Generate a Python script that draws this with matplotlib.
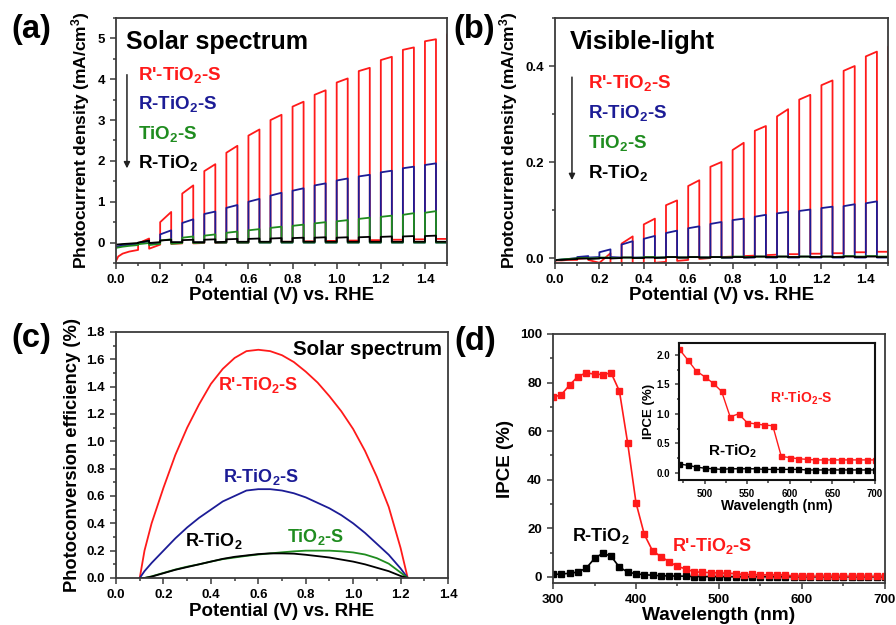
import matplotlib
matplotlib.use("Agg")
import matplotlib.pyplot as plt
from matplotlib.ticker import MultipleLocator

plt.rcParams['font.family'] = ['Liberation Sans', 'DejaVu Sans']
plt.rcParams['font.weight'] = 'bold'
plt.rcParams['axes.labelweight'] = 'bold'
plt.rcParams['mathtext.fontset'] = 'custom'
plt.rcParams['mathtext.bf'] = 'Liberation Sans:bold'
plt.rcParams['mathtext.rm'] = 'Liberation Sans:bold'
plt.rcParams['mathtext.default'] = 'bf'

RED = '#ff1a1a'
BLUE = '#1c1c96'
GREEN = '#1f8c1f'
BLACK = '#000000'

# ---- chopped-light J-V data (a), (b) ----
pulse_v = [0.1, 0.2, 0.3, 0.4, 0.5, 0.6, 0.7, 0.8, 0.9, 1.0, 1.1, 1.2, 1.3, 1.4, 1.5]
pulse_len = 0.05
start_v = [0.0, 0.01, 0.03, 0.06, 0.1]

# (a) solar spectrum
red_a_start = [-0.45, -0.34, -0.27, -0.22, -0.18]
red_a_pre = [-0.18, -0.05, -0.02, -0.01, 0.0, 0.0, 0.01, 0.02, 0.03, 0.04, 0.05, 0.06, 0.07, 0.08, 0.09]
red_a_on0 = [-0.02, 0.5, 1.2, 1.75, 2.2, 2.62, 3.0, 3.33, 3.62, 3.92, 4.2, 4.47, 4.72, 4.93, 5.1]
red_a_on1 = [0.1, 0.75, 1.4, 1.92, 2.37, 2.77, 3.13, 3.45, 3.73, 4.02, 4.28, 4.55, 4.78, 4.98, 5.1]
red_a_post = [-0.15, -0.03, -0.02, -0.01, 0.0, 0.01, 0.02, 0.03, 0.04, 0.05, 0.06, 0.07, 0.08, 0.09, 0.1]

blue_a_start = [-0.1, -0.09, -0.07, -0.05, -0.03]
blue_a_dark = [-0.03, 0.0, 0.0, 0.0, 0.0, 0.0, 0.0, 0.0, 0.0, 0.0, 0.0, 0.0, 0.0, 0.0, 0.0]
blue_a_on0 = [-0.01, 0.2, 0.48, 0.7, 0.85, 1.0, 1.15, 1.27, 1.4, 1.52, 1.62, 1.72, 1.82, 1.9, 1.98]
blue_a_on1 = [0.03, 0.3, 0.57, 0.76, 0.92, 1.07, 1.22, 1.33, 1.45, 1.57, 1.66, 1.76, 1.86, 1.94, 1.98]

green_a_start = [-0.13, -0.12, -0.1, -0.08, -0.06]
green_a_dark = [-0.06, -0.03, -0.01, 0.0, 0.0, 0.0, 0.0, 0.0, 0.0, 0.0, 0.0, 0.0, 0.0, 0.0, 0.0]
green_a_on0 = [-0.04, 0.05, 0.12, 0.17, 0.24, 0.3, 0.36, 0.41, 0.47, 0.52, 0.58, 0.63, 0.68, 0.73, 0.8]
green_a_on1 = [-0.01, 0.08, 0.15, 0.2, 0.27, 0.33, 0.39, 0.44, 0.5, 0.55, 0.61, 0.66, 0.72, 0.77, 0.8]

black_a_start = [-0.05, -0.045, -0.035, -0.025, -0.01]
black_a_dark = [-0.01, 0.01, 0.01, 0.01, 0.02, 0.02, 0.02, 0.02, 0.02, 0.02, 0.02, 0.02, 0.02, 0.02, 0.02]
black_a_on0 = [0.0, 0.05, 0.06, 0.07, 0.08, 0.09, 0.1, 0.11, 0.12, 0.12, 0.13, 0.14, 0.15, 0.16, 0.18]
black_a_on1 = [0.05, 0.07, 0.07, 0.08, 0.09, 0.1, 0.11, 0.12, 0.13, 0.13, 0.14, 0.15, 0.16, 0.17, 0.18]

# (b) visible light
red_b_start = [-0.006, -0.005, -0.005, -0.004, -0.004]
red_b_pre = [-0.004, -0.01, -0.012, -0.01, -0.008, -0.004, 0.0, 0.003, 0.005, 0.007, 0.008, 0.009, 0.01, 0.012, 0.013]
red_b_on0 = [-0.002, -0.01, 0.03, 0.07, 0.11, 0.15, 0.19, 0.225, 0.265, 0.295, 0.33, 0.36, 0.39, 0.42, 0.44]
red_b_on1 = [0.0, 0.01, 0.045, 0.082, 0.12, 0.162, 0.2, 0.24, 0.275, 0.31, 0.34, 0.37, 0.4, 0.43, 0.44]
red_b_post = [-0.004, -0.012, -0.012, -0.01, -0.006, -0.002, 0.002, 0.004, 0.006, 0.008, 0.009, 0.01, 0.012, 0.013, 0.014]

blue_b_start = [-0.005, -0.004, -0.003, -0.002, 0.0]
blue_b_dark = [0.001, 0.002, 0.001, 0.001, 0.001, 0.001, 0.001, 0.001, 0.001, 0.001, 0.001, 0.001, 0.001, 0.001, 0.001]
blue_b_on0 = [0.002, 0.012, 0.028, 0.04, 0.052, 0.062, 0.071, 0.079, 0.086, 0.093, 0.098, 0.104, 0.108, 0.114, 0.12]
blue_b_on1 = [0.004, 0.018, 0.035, 0.046, 0.057, 0.066, 0.075, 0.082, 0.09, 0.096, 0.101, 0.107, 0.112, 0.118, 0.12]

green_b_start = [-0.004, -0.004, -0.003, -0.002, -0.001]
green_b_dark = [-0.001, 0.0, 0.0, 0.001, 0.001, 0.001, 0.001, 0.002, 0.002, 0.002, 0.002, 0.002, 0.003, 0.003, 0.003]
green_b_on0 = [0.0, 0.001, 0.001, 0.002, 0.002, 0.002, 0.002, 0.003, 0.003, 0.003, 0.003, 0.003, 0.004, 0.004, 0.004]
green_b_on1 = [0.0, 0.001, 0.001, 0.002, 0.002, 0.002, 0.002, 0.003, 0.003, 0.003, 0.003, 0.003, 0.004, 0.004, 0.004]

black_b_start = [-0.005, -0.004, -0.004, -0.003, -0.002]
black_b_dark = [-0.002, -0.001, 0.0, 0.0, 0.001, 0.001, 0.001, 0.001, 0.002, 0.002, 0.002, 0.002, 0.002, 0.002, 0.002]
black_b_on0 = [-0.001, 0.0, 0.001, 0.001, 0.002, 0.002, 0.002, 0.002, 0.003, 0.003, 0.003, 0.003, 0.003, 0.003, 0.003]
black_b_on1 = [-0.001, 0.0, 0.001, 0.001, 0.002, 0.002, 0.002, 0.002, 0.003, 0.003, 0.003, 0.003, 0.003, 0.003, 0.003]

# ---- (c) photoconversion efficiency ----
c_v = [0.10, 0.12, 0.15, 0.2, 0.25, 0.3, 0.35, 0.4, 0.45, 0.5, 0.55, 0.6, 0.65,
       0.7, 0.75, 0.8, 0.85, 0.9, 0.95, 1.0, 1.05, 1.1, 1.15, 1.2, 1.23]
eff_red = [0.0, 0.2, 0.4, 0.66, 0.9, 1.1, 1.27, 1.42, 1.53, 1.61, 1.66, 1.67, 1.66,
           1.63, 1.58, 1.51, 1.43, 1.33, 1.22, 1.09, 0.93, 0.74, 0.52, 0.22, 0.0]
eff_blue = [0.0, 0.05, 0.11, 0.2, 0.29, 0.37, 0.44, 0.5, 0.56, 0.6, 0.64, 0.65, 0.65,
            0.64, 0.62, 0.59, 0.55, 0.51, 0.46, 0.4, 0.33, 0.25, 0.17, 0.07, 0.0]
eff_black = [0.0, 0.0, 0.01, 0.035, 0.06, 0.08, 0.1, 0.12, 0.14, 0.155, 0.165, 0.175, 0.18,
             0.18, 0.178, 0.17, 0.16, 0.15, 0.135, 0.12, 0.1, 0.075, 0.05, 0.015, 0.0]
eff_green = [0.0, 0.0, 0.012, 0.037, 0.062, 0.083, 0.1, 0.12, 0.138, 0.15, 0.162, 0.172, 0.18,
             0.188, 0.195, 0.2, 0.2, 0.2, 0.195, 0.187, 0.172, 0.145, 0.105, 0.04, 0.0]

# ---- (d) IPCE ----
wavelength = list(range(300, 701, 10))
ipce_red = [74, 75, 79, 82.5, 84, 83.5, 83.3, 84, 76.5, 55, 30.5, 17.5, 10.7, 8.4, 6.2, 4.3, 3.3,
            2.1, 1.92, 1.73, 1.63, 1.52, 1.38, 0.95, 1.0, 0.85, 0.83, 0.81, 0.8, 0.28, 0.26,
            0.24, 0.23, 0.22, 0.22, 0.22, 0.22, 0.22, 0.22, 0.22, 0.22]
ipce_black = [1.0, 1.2, 1.5, 2.0, 3.6, 7.6, 9.8, 8.5, 4.0, 2.0, 1.3, 0.9, 0.7, 0.5, 0.4, 0.35, 0.3,
              0.15, 0.13, 0.1, 0.08, 0.07, 0.06, 0.07, 0.07, 0.07, 0.07, 0.06, 0.06, 0.06, 0.06,
              0.06, 0.05, 0.05, 0.05, 0.05, 0.05, 0.05, 0.05, 0.05, 0.05]

labels = ["R'-TiO$_2$-S", "R-TiO$_2$-S", "TiO$_2$-S", "R-TiO$_2$"]


def chopped(j_start, pre, on0, on1, post):
    v = list(start_v)
    j = list(j_start)
    for k, p in enumerate(pulse_v):
        v += [p, p, p + pulse_len, p + pulse_len]
        j += [pre[k], on0[k], on1[k], post[k]]
    return v, j


def style_axes(ax, lw=1.3, tick_size=9.5):
    for s in ax.spines.values():
        s.set_linewidth(lw)
        s.set_color('#3a3a3a')
    ax.tick_params(which='both', direction='out', top=False, right=False,
                   labelsize=tick_size, width=1.1, color='#3a3a3a')
    ax.tick_params(which='major', length=4.5)
    ax.tick_params(which='minor', length=2.5)


fig = plt.figure(figsize=(8.96, 6.25), dpi=100)

ax_a = fig.add_axes([0.1295, 0.5792, 0.3694, 0.392])
ax_b = fig.add_axes([0.6194, 0.5792, 0.3717, 0.392])
ax_c = fig.add_axes([0.1295, 0.0752, 0.3705, 0.3936])
ax_d = fig.add_axes([0.6172, 0.0672, 0.3705, 0.3984])
ax_in = fig.add_axes([0.7578, 0.232, 0.2188, 0.2192])

# (a)
series_a = [
    (red_a_start, red_a_pre, red_a_on0, red_a_on1, red_a_post, RED),
    (blue_a_start, blue_a_dark, blue_a_on0, blue_a_on1, blue_a_dark, BLUE),
    (green_a_start, green_a_dark, green_a_on0, green_a_on1, green_a_dark, GREEN),
    (black_a_start, black_a_dark, black_a_on0, black_a_on1, black_a_dark, BLACK),
]
for st, pre, on0, on1, post, col in series_a:
    v, j = chopped(st, pre, on0, on1, post)
    ax_a.plot(v, j, color=col, lw=1.3)
ax_a.set_xlim(0, 1.5)
ax_a.set_ylim(-0.5, 5.5)
ax_a.xaxis.set_major_locator(MultipleLocator(0.2))
ax_a.xaxis.set_minor_locator(MultipleLocator(0.1))
ax_a.yaxis.set_major_locator(MultipleLocator(1))
ax_a.yaxis.set_minor_locator(MultipleLocator(0.5))
ax_a.set_xlabel("Potential (V) vs. RHE", fontsize=13.5, labelpad=1)
ax_a.set_ylabel("Photocurrent density (mA/cm$^3$)", fontsize=12.5, labelpad=4)
ax_a.text(0.03, 0.873, "Solar spectrum", transform=ax_a.transAxes, fontsize=18)
for lab, col, yb in zip(labels, [RED, BLUE, GREEN, BLACK], [0.747, 0.629, 0.506, 0.388]):
    ax_a.text(0.066, yb, lab, color=col, transform=ax_a.transAxes, fontsize=13.5)
ax_a.annotate("", xy=(0.033, 0.375), xytext=(0.033, 0.78), xycoords='axes fraction',
              arrowprops=dict(arrowstyle='-|>', color='#222222', lw=1.1, mutation_scale=9))
style_axes(ax_a)

# (b)
series_b = [
    (red_b_start, red_b_pre, red_b_on0, red_b_on1, red_b_post, RED),
    (blue_b_start, blue_b_dark, blue_b_on0, blue_b_on1, blue_b_dark, BLUE),
    (green_b_start, green_b_dark, green_b_on0, green_b_on1, green_b_dark, GREEN),
    (black_b_start, black_b_dark, black_b_on0, black_b_on1, black_b_dark, BLACK),
]
for st, pre, on0, on1, post, col in series_b:
    v, j = chopped(st, pre, on0, on1, post)
    ax_b.plot(v, j, color=col, lw=1.3)
ax_b.set_xlim(0, 1.5)
ax_b.set_ylim(-0.0104, 0.5)
ax_b.xaxis.set_major_locator(MultipleLocator(0.2))
ax_b.xaxis.set_minor_locator(MultipleLocator(0.1))
ax_b.yaxis.set_major_locator(MultipleLocator(0.2))
ax_b.yaxis.set_minor_locator(MultipleLocator(0.1))
ax_b.set_xlabel("Potential (V) vs. RHE", fontsize=13.5, labelpad=1)
ax_b.set_ylabel("Photocurrent density (mA/cm$^3$)", fontsize=12.5, labelpad=4)
ax_b.text(0.045, 0.873, "Visible-light", transform=ax_b.transAxes, fontsize=18.5)
for lab, col, yb in zip(labels, [RED, BLUE, GREEN, BLACK], [0.714, 0.592, 0.469, 0.347]):
    ax_b.text(0.099, yb, lab, color=col, transform=ax_b.transAxes, fontsize=13.5)
ax_b.annotate("", xy=(0.051, 0.327), xytext=(0.051, 0.77), xycoords='axes fraction',
              arrowprops=dict(arrowstyle='-|>', color='#222222', lw=1.1, mutation_scale=9))
style_axes(ax_b)

# (c)
ax_c.plot(c_v, eff_red, color=RED, lw=1.3)
ax_c.plot(c_v, eff_blue, color=BLUE, lw=1.3)
ax_c.plot(c_v, eff_green, color=GREEN, lw=1.3)
ax_c.plot(c_v, eff_black, color=BLACK, lw=1.3)
ax_c.set_xlim(0, 1.4)
ax_c.set_ylim(0, 1.8)
ax_c.xaxis.set_major_locator(MultipleLocator(0.2))
ax_c.xaxis.set_minor_locator(MultipleLocator(0.1))
ax_c.yaxis.set_major_locator(MultipleLocator(0.2))
ax_c.yaxis.set_minor_locator(MultipleLocator(0.1))
ax_c.set_xlabel("Potential (V) vs. RHE", fontsize=13.5, labelpad=1)
ax_c.set_ylabel("Photoconversion efficiency (%)", fontsize=13.2, labelpad=4)
ax_c.text(0.982, 0.906, "Solar spectrum", transform=ax_c.transAxes, fontsize=14.8, ha='right')
ax_c.text(0.307, 0.764, labels[0], color=RED, transform=ax_c.transAxes, fontsize=13)
ax_c.text(0.322, 0.39, labels[1], color=BLUE, transform=ax_c.transAxes, fontsize=13)
ax_c.text(0.208, 0.13, labels[3], color=BLACK, transform=ax_c.transAxes, fontsize=13)
ax_c.text(0.515, 0.146, labels[2], color=GREEN, transform=ax_c.transAxes, fontsize=13)
style_axes(ax_c)

# (d)
ax_d.plot(wavelength, ipce_black, color=BLACK, lw=1.2, marker='s', ms=4.3, mec=BLACK, mfc=BLACK)
ax_d.plot(wavelength, ipce_red, color=RED, lw=1.2, marker='s', ms=4.3, mec=RED, mfc=RED)
ax_d.set_xlim(300, 700)
ax_d.set_ylim(-2.5, 100)
ax_d.xaxis.set_major_locator(MultipleLocator(100))
ax_d.xaxis.set_minor_locator(MultipleLocator(50))
ax_d.yaxis.set_major_locator(MultipleLocator(20))
ax_d.yaxis.set_minor_locator(MultipleLocator(10))
ax_d.set_xlabel("Wavelength (nm)", fontsize=13.8, labelpad=1)
ax_d.set_ylabel("IPCE (%)", fontsize=13.5, labelpad=4)
ax_d.text(0.057, 0.169, labels[3], color=BLACK, transform=ax_d.transAxes, fontsize=13)
ax_d.text(0.358, 0.129, labels[0], color=RED, transform=ax_d.transAxes, fontsize=13)
style_axes(ax_d)

# inset
ax_in.plot(wavelength, ipce_black, color=BLACK, lw=1.0, marker='s', ms=3.6, mec=BLACK, mfc=BLACK)
ax_in.plot(wavelength, ipce_red, color=RED, lw=1.0, marker='s', ms=3.6, mec=RED, mfc=RED)
ax_in.set_xlim(470, 700)
ax_in.set_ylim(-0.12, 2.2)
ax_in.xaxis.set_major_locator(MultipleLocator(50))
ax_in.xaxis.set_minor_locator(MultipleLocator(25))
ax_in.yaxis.set_major_locator(MultipleLocator(0.5))
ax_in.yaxis.set_minor_locator(MultipleLocator(0.25))
ax_in.set_xlabel("Wavelength (nm)", fontsize=10, labelpad=0)
ax_in.set_ylabel("IPCE (%)", fontsize=9.5, labelpad=1)
ax_in.text(0.464, 0.562, labels[0], color=RED, transform=ax_in.transAxes, fontsize=10)
ax_in.text(0.148, 0.175, labels[3], color=BLACK, transform=ax_in.transAxes, fontsize=11)
style_axes(ax_in, lw=1.5, tick_size=7)
ax_in.tick_params(which='major', length=3)
ax_in.tick_params(which='minor', length=1.8)
for s in ax_in.spines.values():
    s.set_color('#111111')

# panel labels
fig.text(0.013, 0.939, "(a)", fontsize=23.5)
fig.text(0.506, 0.939, "(b)", fontsize=23.5)
fig.text(0.013, 0.445, "(c)", fontsize=23.5)
fig.text(0.507, 0.44, "(d)", fontsize=23.5)

fig.savefig("out.png", dpi=100)
